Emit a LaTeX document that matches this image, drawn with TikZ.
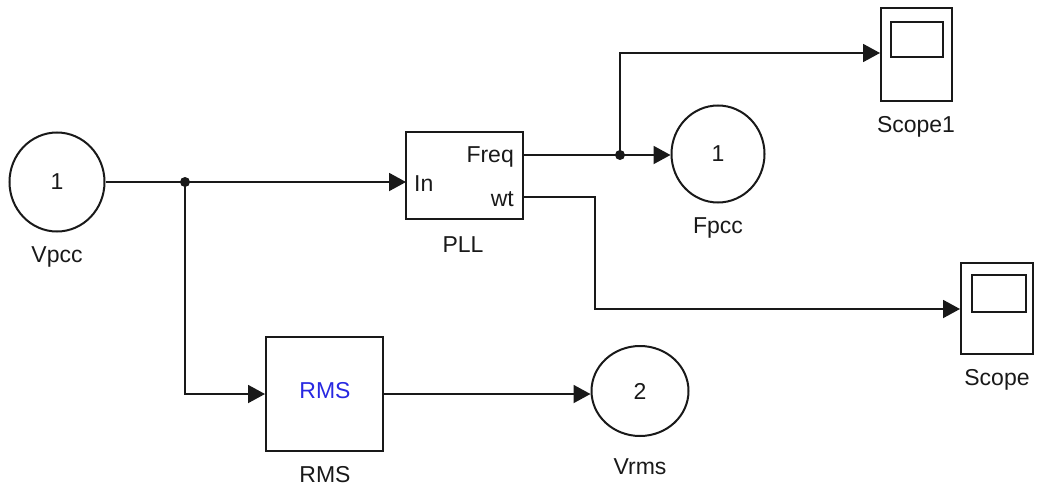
\documentclass[tikz,border=0pt]{standalone}
\usepackage{fontspec}
\setmainfont{Liberation Sans}
\usetikzlibrary{shapes.geometric,arrows.meta}
\definecolor{ink}{RGB}{25,25,25}
\definecolor{rmsblue}{RGB}{40,40,225}
\begin{document}
\begin{tikzpicture}[x=1pt,y=-1pt,
  every node/.style={font=\fontsize{23}{26}\selectfont, text=ink},
  port/.style={draw=ink, line width=2pt, ellipse, inner sep=0pt},
  blk/.style={draw=ink, line width=2pt, rectangle, inner sep=0pt},
  wire/.style={draw=ink, line width=1.9pt},
  arr/.style={wire, -{Triangle[length=17pt,width=18pt]}},
  dotj/.style={circle, fill=ink, minimum size=10pt, inner sep=0pt},
  lbl/.style={inner sep=0pt}]
\useasboundingbox (0,0) rectangle (1038,495);
% blocks
\node[port, minimum width=95pt, minimum height=99pt] (vpcc) at (57,182) {1};
\node[lbl] (vpccl) at (57,257) {Vpcc};
\node[blk, minimum width=117pt, minimum height=87pt] (pll) at (464.5,175.5) {};
\node[lbl, anchor=west] (pllin) at (414,184) {In};
\node[lbl, anchor=east] (pllfreq) at (514,157) {Freq};
\node[lbl, anchor=east] (pllwt) at (514,199) {wt};
\node[lbl] (plll) at (463,245) {PLL};
\node[port, minimum width=93pt, minimum height=97pt] (fpcc) at (718,154) {1};
\node[lbl] (fpccl) at (718,228) {Fpcc};
\node[blk, minimum width=71pt, minimum height=93pt] (scope1) at (916.5,54.5) {};
\node[blk, minimum width=52pt, minimum height=35pt] (scr1) at (917,39.5) {};
\node[lbl] (scope1l) at (916,127) {Scope1};
\node[blk, minimum width=72pt, minimum height=91pt] (scope) at (997,308.5) {};
\node[blk, minimum width=54pt, minimum height=37pt] (scr) at (999,293.5) {};
\node[lbl] (scopel) at (997,380) {Scope};
\node[blk, minimum width=117pt, minimum height=114pt] (rms) at (324.5,394) {};
\node[lbl, text=rmsblue] (rmsin) at (325,391) {RMS};
\node[lbl] (rmsl) at (325,475) {RMS};
\node[port, minimum width=97pt, minimum height=90pt] (vrms) at (640,391) {2};
\node[lbl] (vrmsl) at (640,467) {Vrms};
% ports / junctions
\coordinate (inport) at (406,182);
\coordinate (freqport) at (523,155);
\coordinate (wtport) at (523,197);
\coordinate (wtbend) at (595,197);
\node[dotj] (j1) at (185,182) {};
\node[dotj] (j2) at (620,155) {};
% wires
\draw[arr] (vpcc.east |- inport) -- (inport);
\draw[arr] (j1.center) |- (rms.west);
\draw[arr] (freqport) -- (freqport -| fpcc.west);
\draw[arr] (j2.center) |- (scope1.west |- 0,53);
\draw[arr] (wtport) -- (wtbend) |- (scope.west |- 0,309);
\draw[arr] (rms.east) -- (rms.east -| vrms.west);
\end{tikzpicture}
\end{document}
